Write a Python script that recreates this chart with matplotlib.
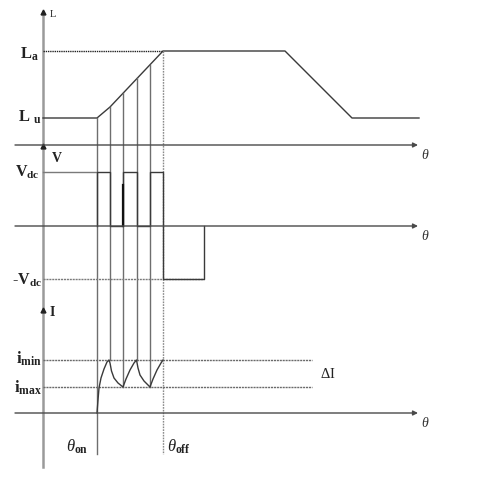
import numpy as np
import matplotlib
matplotlib.use('Agg')
import matplotlib.pyplot as plt

plt.rcParams['font.family'] = ['Liberation Serif', 'DejaVu Serif']
plt.rcParams['mathtext.fontset'] = 'custom'
plt.rcParams['mathtext.rm'] = 'Liberation Serif'
plt.rcParams['mathtext.it'] = 'Liberation Serif:italic'
plt.rcParams['mathtext.bf'] = 'Liberation Serif:bold'

# all positions in drawing units (x = rotor angle, y grows downwards)
x_axis = 43
theta_end = 418
axis_rows = [145, 226, 413]          # theta axes of L, V and I
arrow_rows = [12, 146, 310]          # arrowheads on the shared vertical axis

# inductance profile
theta_L = [43, 97, 110, 163, 285, 352, 419]
L_vals = [118, 118, 107, 51, 51, 118, 118]
L_a, L_u = 51, 118

# switching angles (theta_on ... theta_off)
theta_sw = [97, 110, 123, 137, 150, 163]
theta_on, theta_off = 97, 163
theta_demag = 204

# phase voltage
V_dc, V_zero, V_neg = 172, 226, 279
theta_V = [97, 97, 110, 110, 123, 123, 137, 137, 150, 150, 163, 163, 204, 204]
V_vals = [226, 172, 172, 226, 226, 172, 172, 226, 226, 172, 172, 279, 279, 226]

# phase current
i_min, i_max = 360, 387
theta_i = [97, 98, 99, 101, 104, 107, 109, 110, 111.5, 114, 118, 123,
           126, 130, 134, 136.5, 138, 140, 144, 150,
           153, 157, 161, 163]
i_vals = [413, 400, 388, 378, 369, 362, 360, 363, 371, 378, 383, 387,
          379, 370, 363, 360, 368, 375, 381, 387,
          379, 370, 363, 360]
i_levels_at_sw = [i_min, i_max, i_min, i_max]   # for the inner switch lines

dark = '#3a3a3a'
grey = '#6e6e6e'

fig = plt.figure(figsize=(4.78, 4.80), dpi=100)
ax = fig.add_axes([0, 0, 1, 1])
ax.set_xlim(0, 478)
ax.set_ylim(480, 0)
ax.axis('off')

# shared vertical axis with three arrowheads
ax.plot([x_axis, x_axis], [467, arrow_rows[0]], color='#9a9a9a', lw=1.8)
ax.plot([x_axis] * 3, arrow_rows, ls='none', marker='^', ms=3.5, color='#222222')

# theta axes
for row in axis_rows:
    ax.annotate('', xy=(theta_end, row), xytext=(15, row),
                arrowprops=dict(arrowstyle='-|>', lw=1.0, color='#4a4a4a',
                                mutation_scale=7, shrinkA=0, shrinkB=0))
    ax.text(theta_end + 3, row + 10, r'$\theta$', fontsize=10, color='#333333',
            ha='left', va='center')

# inductance
ax.plot(theta_L, L_vals, color=dark, lw=1.0)
ax.plot([x_axis, theta_off], [L_a, L_a], color='#222222', lw=1.0, ls=(0, (1, 0.6)))

# vertical switching lines
ax.plot([theta_on, theta_on], [L_u, 454], color=grey, lw=1.0)
ax.plot([theta_off, theta_off], [L_a, 454], color='#8a8a8a', lw=1.0, ls=(0, (1.2, 0.8)))
for th, lev in zip(theta_sw[1:-1], i_levels_at_sw):
    top = np.interp(th, theta_L, L_vals)
    ax.plot([th, th], [top, lev], color=grey, lw=1.0)

# voltage
ax.plot([x_axis, theta_on], [V_dc, V_dc], color='#7a7a7a', lw=1.0)
ax.plot([x_axis, theta_demag], [V_neg, V_neg], color='#7a7a7a', lw=1.0, ls=(0, (1.5, 0.6)))
ax.plot(theta_V, V_vals, color=dark, lw=1.0)
ax.plot([theta_sw[2], theta_sw[2]], [185, V_zero], color='#111111', lw=1.6)

# current
ax.plot([x_axis, 312], [i_min, i_min], color='#6a6a6a', lw=1.0, ls=(0, (1.5, 0.6)))
ax.plot([x_axis, 312], [i_max, i_max], color='#6a6a6a', lw=1.0, ls=(0, (1.5, 0.6)))
ax.plot(theta_i, i_vals, color=dark, lw=1.0)

# labels
lab = dict(color='#222222', ha='right', va='baseline')
ax.text(39, 59, r'$\mathbf{L}_{\mathbf{a}}$', fontsize=12, **lab)
ax.text(41, 122, r'$\mathbf{L}\ _{\mathbf{u}}$', fontsize=12, **lab)
ax.text(40, 177, r'$\mathbf{V}_{\mathbf{dc}}$', fontsize=11.5, **lab)
ax.text(42, 285, r'$\mathbf{\text{-}V}_{\mathbf{dc}}$', fontsize=11.5, **lab)
ax.text(42, 364, r'$\mathbf{i}_{\mathbf{min}}$', fontsize=12, **lab)
ax.text(42, 393, r'$\mathbf{i}_{\mathbf{max}}$', fontsize=12, **lab)

ax.text(50, 17, 'L', fontsize=7.5, color='#222222', ha='left', va='baseline')
ax.text(52, 162, 'V', fontsize=10, fontweight='bold', color='#222222', ha='left', va='baseline')
ax.text(50, 316, 'I', fontsize=10, fontweight='bold', color='#222222', ha='left', va='baseline')
ax.text(320, 378, r'$\Delta$I', fontsize=10.5, color='#222222', ha='left', va='baseline')

ax.text(66, 452, r'$\theta_{\mathbf{on}}$', fontsize=12, color='#222222', ha='left', va='baseline')
ax.text(167, 452, r'$\theta_{\mathbf{off}}$', fontsize=12, color='#222222', ha='left', va='baseline')

fig.savefig('out.png', dpi=100, facecolor='white')
